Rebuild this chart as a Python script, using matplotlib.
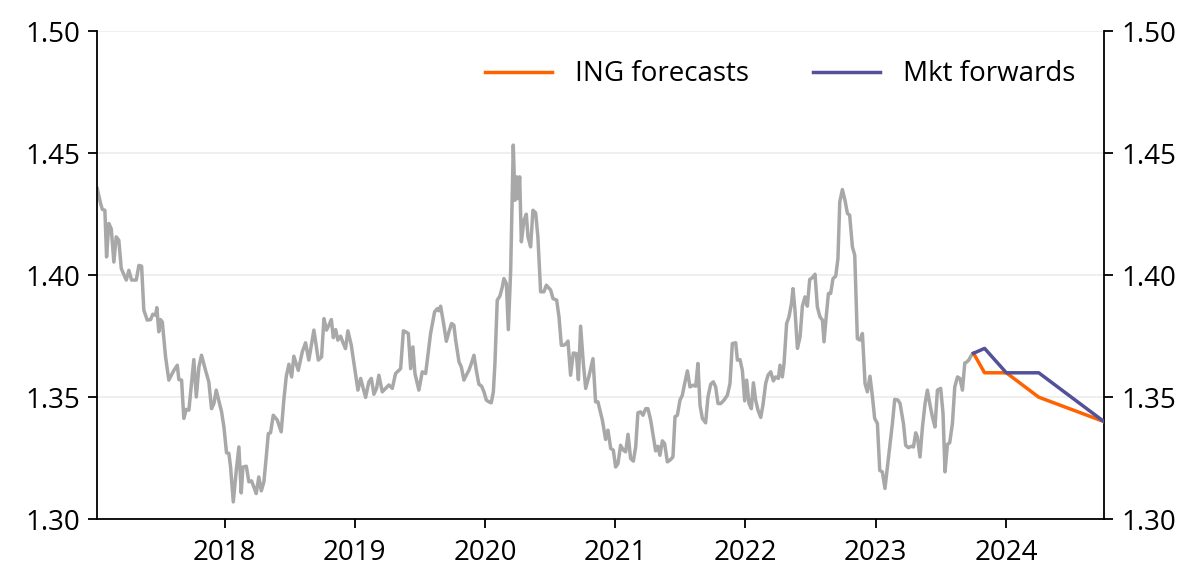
import matplotlib
matplotlib.use("Agg")
import matplotlib.pyplot as plt

# ── Style ────────────────────────────────────────────────────────────────────
GREY = "#a8a8a8"
ING_ORANGE = "#ff6200"
MKT_PURPLE = "#525199"
GRID = "#ececec"

plt.rcParams.update({
    "font.family": ["Open Sans", "DejaVu Sans"],
    "font.size": 20,
    "axes.edgecolor": "black",
    "axes.linewidth": 1.3,
})

# ── Data (decimal years) ─────────────────────────────────────────────────────
spot_years = [
    2017.022, 2017.048, 2017.061, 2017.081, 2017.094, 2017.111, 2017.130, 2017.150,
    2017.168, 2017.188, 2017.207, 2017.245, 2017.265, 2017.286, 2017.322, 2017.342,
    2017.363, 2017.380, 2017.406, 2017.432, 2017.449, 2017.470, 2017.480, 2017.495,
    2017.508, 2017.522, 2017.547, 2017.572, 2017.611, 2017.637, 2017.649, 2017.670,
    2017.687, 2017.706, 2017.726, 2017.764, 2017.783, 2017.803, 2017.823, 2017.854,
    2017.879, 2017.900, 2017.918, 2017.936, 2017.977, 2017.995, 2018.015, 2018.033,
    2018.046, 2018.067, 2018.090, 2018.110, 2018.128, 2018.141, 2018.167, 2018.187,
    2018.207, 2018.225, 2018.243, 2018.263, 2018.282, 2018.302, 2018.320, 2018.336,
    2018.353, 2018.374, 2018.405, 2018.435, 2018.455, 2018.474, 2018.494, 2018.515,
    2018.532, 2018.566, 2018.597, 2018.622, 2018.647, 2018.686, 2018.720, 2018.745,
    2018.763, 2018.783, 2018.801, 2018.820, 2018.835, 2018.853, 2018.870, 2018.891,
    2018.912, 2018.929, 2018.947, 2018.973, 2018.998, 2019.024, 2019.045, 2019.065,
    2019.083, 2019.108, 2019.127, 2019.147, 2019.167, 2019.185, 2019.211, 2019.237,
    2019.262, 2019.288, 2019.313, 2019.352, 2019.373, 2019.390, 2019.411, 2019.429,
    2019.446, 2019.462, 2019.492, 2019.518, 2019.544, 2019.582, 2019.613, 2019.634,
    2019.646, 2019.659, 2019.680, 2019.703, 2019.723, 2019.743, 2019.761, 2019.774,
    2019.800, 2019.818, 2019.838, 2019.856, 2019.876, 2019.895, 2019.915, 2019.935,
    2019.953, 2019.974, 2019.992, 2020.010, 2020.030, 2020.048, 2020.064, 2020.076,
    2020.094, 2020.114, 2020.133, 2020.145, 2020.164, 2020.179, 2020.197, 2020.217,
    2020.230, 2020.243, 2020.253, 2020.266, 2020.279, 2020.299, 2020.317, 2020.330,
    2020.350, 2020.368, 2020.389, 2020.406, 2020.427, 2020.452, 2020.471, 2020.504,
    2020.522, 2020.550, 2020.568, 2020.586, 2020.606, 2020.624, 2020.637, 2020.657,
    2020.678, 2020.701, 2020.717, 2020.734, 2020.755, 2020.773, 2020.798, 2020.829,
    2020.849, 2020.867, 2020.901, 2020.926, 2020.944, 2020.965, 2020.985, 2021.003,
    2021.021, 2021.041, 2021.062, 2021.080, 2021.098, 2021.118, 2021.139, 2021.157,
    2021.174, 2021.195, 2021.213, 2021.234, 2021.251, 2021.272, 2021.293, 2021.310,
    2021.328, 2021.343, 2021.362, 2021.379, 2021.400, 2021.420, 2021.443, 2021.459,
    2021.477, 2021.497, 2021.515, 2021.533, 2021.554, 2021.574, 2021.597, 2021.618,
    2021.635, 2021.651, 2021.669, 2021.694, 2021.712, 2021.733, 2021.753, 2021.771,
    2021.789, 2021.810, 2021.835, 2021.861, 2021.881, 2021.899, 2021.925, 2021.938,
    2021.958, 2021.976, 2021.994, 2022.009, 2022.027, 2022.045, 2022.061, 2022.078,
    2022.096, 2022.117, 2022.134, 2022.155, 2022.173, 2022.194, 2022.214, 2022.232,
    2022.253, 2022.265, 2022.283, 2022.296, 2022.316, 2022.334, 2022.353, 2022.365,
    2022.380, 2022.399, 2022.419, 2022.437, 2022.457, 2022.475, 2022.493, 2022.514,
    2022.534, 2022.552, 2022.572, 2022.591, 2022.603, 2022.621, 2022.637, 2022.654,
    2022.672, 2022.693, 2022.710, 2022.724, 2022.744, 2022.764, 2022.783, 2022.800,
    2022.821, 2022.839, 2022.859, 2022.879, 2022.898, 2022.918, 2022.936, 2022.956,
    2022.975, 2022.992, 2023.013, 2023.031, 2023.051, 2023.071, 2023.090, 2023.110,
    2023.128, 2023.146, 2023.171, 2023.187, 2023.213, 2023.230, 2023.251, 2023.274,
    2023.290, 2023.307, 2023.320, 2023.340, 2023.359, 2023.379, 2023.397, 2023.415,
    2023.435, 2023.455, 2023.474, 2023.499, 2023.517, 2023.532, 2023.551, 2023.568,
    2023.589, 2023.607, 2023.628, 2023.647, 2023.666, 2023.684, 2023.699, 2023.717,
    2023.735, 2023.751,
]
spot = [
    1.4355, 1.4294, 1.4270, 1.4266, 1.4075, 1.4212, 1.4190, 1.4054,
    1.4157, 1.4143, 1.4027, 1.3980, 1.4020, 1.3980, 1.3980, 1.4040,
    1.4037, 1.3857, 1.3816, 1.3818, 1.3840, 1.3836, 1.3867, 1.3768,
    1.3818, 1.3808, 1.3665, 1.3570, 1.3610, 1.3631, 1.3572, 1.3570,
    1.3413, 1.3450, 1.3447, 1.3654, 1.3501, 1.3624, 1.3672, 1.3610,
    1.3563, 1.3453, 1.3474, 1.3529, 1.3440, 1.3378, 1.3272, 1.3270,
    1.3214, 1.3071, 1.3200, 1.3296, 1.3108, 1.3214, 1.3217, 1.3153,
    1.3157, 1.3132, 1.3105, 1.3173, 1.3116, 1.3153, 1.3255, 1.3351,
    1.3354, 1.3426, 1.3406, 1.3358, 1.3488, 1.3586, 1.3635, 1.3583,
    1.3668, 1.3610, 1.3686, 1.3723, 1.3652, 1.3775, 1.3652, 1.3665,
    1.3822, 1.3775, 1.3795, 1.3818, 1.3744, 1.3777, 1.3734, 1.3750,
    1.3720, 1.3699, 1.3772, 1.3713, 1.3624, 1.3529, 1.3577, 1.3536,
    1.3499, 1.3563, 1.3577, 1.3512, 1.3536, 1.3590, 1.3522, 1.3536,
    1.3550, 1.3536, 1.3597, 1.3617, 1.3772, 1.3768, 1.3761, 1.3617,
    1.3706, 1.3597, 1.3529, 1.3604, 1.3597, 1.3761, 1.3850, 1.3863,
    1.3854, 1.3873, 1.3808, 1.3729, 1.3768, 1.3802, 1.3795, 1.3736,
    1.3645, 1.3624, 1.3570, 1.3590, 1.3610, 1.3638, 1.3672, 1.3604,
    1.3553, 1.3545, 1.3522, 1.3488, 1.3481, 1.3477, 1.3522, 1.3638,
    1.3898, 1.3914, 1.3952, 1.3986, 1.3966, 1.3777, 1.4020, 1.4533,
    1.4307, 1.4403, 1.4314, 1.4403, 1.4137, 1.4225, 1.4250, 1.4157,
    1.4116, 1.4266, 1.4255, 1.4157, 1.3932, 1.3932, 1.3959, 1.3939,
    1.3904, 1.3898, 1.3829, 1.3713, 1.3713, 1.3720, 1.3730, 1.3590,
    1.3681, 1.3679, 1.3572, 1.3791, 1.3638, 1.3536, 1.3586, 1.3658,
    1.3481, 1.3481, 1.3406, 1.3327, 1.3365, 1.3290, 1.3283, 1.3214,
    1.3228, 1.3303, 1.3283, 1.3276, 1.3348, 1.3249, 1.3238, 1.3297,
    1.3436, 1.3440, 1.3426, 1.3453, 1.3453, 1.3406, 1.3337, 1.3280,
    1.3299, 1.3262, 1.3321, 1.3310, 1.3235, 1.3242, 1.3255, 1.3420,
    1.3426, 1.3488, 1.3508, 1.3556, 1.3608, 1.3542, 1.3549, 1.3545,
    1.3638, 1.3467, 1.3413, 1.3395, 1.3501, 1.3553, 1.3563, 1.3542,
    1.3474, 1.3474, 1.3488, 1.3508, 1.3556, 1.3720, 1.3723, 1.3652,
    1.3654, 1.3610, 1.3485, 1.3570, 1.3474, 1.3453, 1.3559, 1.3488,
    1.3447, 1.3417, 1.3467, 1.3556, 1.3590, 1.3604, 1.3567, 1.3583,
    1.3577, 1.3631, 1.3583, 1.3638, 1.3802, 1.3829, 1.3884, 1.3945,
    1.3857, 1.3700, 1.3747, 1.3873, 1.3911, 1.3873, 1.3982, 1.3990,
    1.4004, 1.3870, 1.3829, 1.3816, 1.3727, 1.3836, 1.3925, 1.3925,
    1.3986, 1.3996, 1.4068, 1.4300, 1.4351, 1.4307, 1.4253, 1.4246,
    1.4116, 1.4082, 1.3740, 1.3734, 1.3761, 1.3556, 1.3522, 1.3586,
    1.3501, 1.3413, 1.3392, 1.3200, 1.3194, 1.3126, 1.3214, 1.3310,
    1.3392, 1.3491, 1.3488, 1.3474, 1.3392, 1.3303, 1.3293, 1.3299,
    1.3296, 1.3354, 1.3337, 1.3255, 1.3378, 1.3474, 1.3529, 1.3474,
    1.3420, 1.3378, 1.3529, 1.3536, 1.3433, 1.3194, 1.3307, 1.3313,
    1.3392, 1.3542, 1.3583, 1.3577, 1.3529, 1.3640, 1.3644, 1.3654,
    1.3672, 1.3680,
]

# spot, 1M, 3M, 6M, 12M horizons
fcst_years = [2023.751, 2023.836, 2024.003, 2024.252, 2024.753]
ing_forecasts = [1.368, 1.36, 1.36, 1.35, 1.34]
mkt_forwards = [1.368, 1.37, 1.36, 1.36, 1.34]

year_ticks = [2018, 2019, 2020, 2021, 2022, 2023, 2024]
y_ticks = [1.30, 1.35, 1.40, 1.45, 1.50]

# ── Chart ────────────────────────────────────────────────────────────────────
fig = plt.figure(figsize=(12, 5.88), dpi=100)
ax = fig.add_axes([0.081, 0.117, 0.839, 0.830])

ax.plot(spot_years, spot, color=GREY, linewidth=2.5, zorder=2)
ax.plot(fcst_years, ing_forecasts, color=ING_ORANGE, linewidth=2.5,
        label="ING forecasts", zorder=3)
ax.plot(fcst_years, mkt_forwards, color=MKT_PURPLE, linewidth=2.5,
        label="Mkt forwards", zorder=3)

ax.set_xlim(spot_years[0], fcst_years[-1])
ax.set_ylim(1.30, 1.50)
ax.set_xticks(year_ticks)
ax.set_xticklabels([str(y) for y in year_ticks])
ax.set_yticks(y_ticks)
ax.set_yticklabels([f"{v:.2f}" for v in y_ticks])

ax.grid(True, axis="y", color=GRID, linewidth=1.2, zorder=0)
ax.set_axisbelow(True)

ax.spines["top"].set_visible(False)
ax.tick_params(axis="x", direction="out", length=6.5, width=1.3, pad=8)
ax.tick_params(axis="y", direction="out", length=6.5, width=1.3, pad=6,
               left=True, right=True, labelleft=True, labelright=True)

ax.legend(loc="upper right", bbox_to_anchor=(0.972, 0.94), ncol=2,
          frameon=False, borderpad=0, borderaxespad=0,
          handlelength=2.4, handletextpad=0.85, columnspacing=2.3,
          fontsize=20)

fig.savefig("out.png", dpi=100)
